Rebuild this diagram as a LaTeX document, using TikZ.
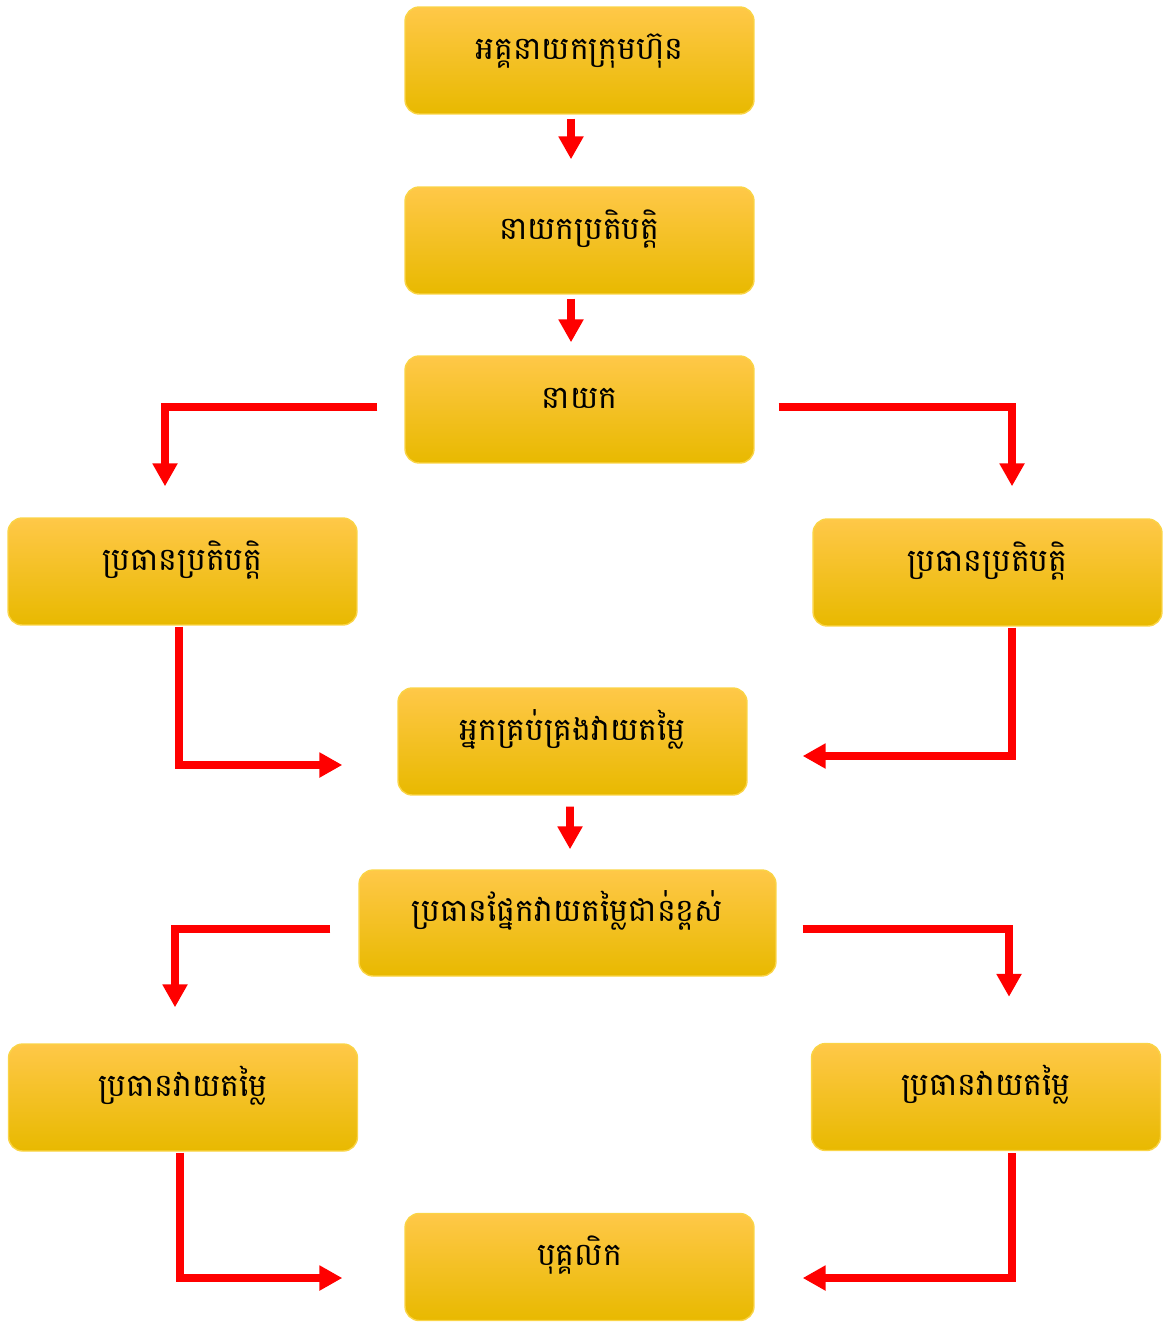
\documentclass[tikz,border=0pt]{standalone}
\usepackage{fontspec}
\newfontfamily\khmerfont[Script=Khmer]{Battambang}
\usetikzlibrary{calc,arrows.meta}
\definecolor{boxtop}{RGB}{255,200,72}
\definecolor{boxmid}{RGB}{255,199,0}
\definecolor{boxbot}{RGB}{232,185,0}
\definecolor{boxline}{RGB}{250,212,70}
\definecolor{linkred}{RGB}{255,0,0}

\begin{document}
\begin{tikzpicture}[
    x=0.02cm, y=-0.02cm,
    post/.style={draw=boxline, line width=0.8pt, rounded corners=8pt,
                 top color=boxtop, middle color=boxmid, bottom color=boxbot,
                 minimum width=6.98cm, minimum height=2.14cm,
                 font=\khmerfont\fontsize{18}{21}\selectfont,
                 text height=13pt, text depth=14.5pt, inner sep=0pt},
    rarrow/.style={draw=linkred, line width=4.5pt,
                   -{Triangle[length=13pt,width=13.5pt]}}
]
\useasboundingbox (0,0) rectangle (1168,1327);

% Posts, top to bottom
\node[post] (ceo) at (579.5,60.5) {អគ្គនាយកក្រុមហ៊ុន};
\node[post] (exec) at (579.5,240.5) {នាយកប្រតិបត្តិ};
\node[post] (chief) at (579.5,409.5) {នាយក};

% Operations heads, one each side
\node[post] (opL) at (182.5,571.5) {ប្រធានប្រតិបត្តិ};
\node[post] (opR) at (987.5,572.5) {ប្រធានប្រតិបត្តិ};

% Valuation
\node[post] (mgr) at (572.5,741.5) {អ្នកគ្រប់គ្រងវាយតម្លៃ};
\node[post, minimum width=8.34cm, minimum height=2.12cm] (senior) at (567.5,923) {ប្រធានផ្នែកវាយតម្លៃជាន់ខ្ពស់};
\node[post] (evL) at (183,1097.5) {ប្រធានវាយតម្លៃ};
\node[post] (evR) at (986,1097) {ប្រធានវាយតម្លៃ};
\node[post] (staff) at (579.5,1267) {បុគ្គលិក};

% Straight links down the middle
\draw[rarrow] ($(ceo.south)+(-8.5,4)$) -- ($(exec.north)+(-8.5,-27)$);
\draw[rarrow] ($(exec.south)+(-8.5,4)$) -- ($(chief.north)+(-8.5,-13)$);
\draw[rarrow] ($(mgr.south)+(-2.5,11)$) -- ($(senior.north)+(2.5,-20)$);

% Chief out to both operations heads
\draw[rarrow] ($(chief.west)+(-27,-2.5)$) -| ($(opL.north)+(-17.5,-31)$);
\draw[rarrow] ($(chief.east)+(24,-2.5)$) -| ($(opR.north)+(24.5,-32)$);

% Operations heads back into the valuation manager
\draw[rarrow] ($(opL.south)+(-3.5,1)$) |- ($(mgr.west)+(-55,23.5)$);
\draw[rarrow] ($(opR.south)+(24.5,1)$) |- ($(mgr.east)+(55,14.5)$);

% Senior head out to both valuation heads
\draw[rarrow] ($(senior.west)+(-28,6)$) -| ($(evL.north)+(-8,-36)$);
\draw[rarrow] ($(senior.east)+(26,6)$) -| ($(evR.north)+(23,-46)$);

% Valuation heads down to staff
\draw[rarrow] ($(evL.south)+(-3,1)$) |- ($(staff.west)+(-62,11)$);
\draw[rarrow] ($(evR.south)+(26,2)$) |- ($(staff.east)+(48,11)$);

\end{tikzpicture}
\end{document}
